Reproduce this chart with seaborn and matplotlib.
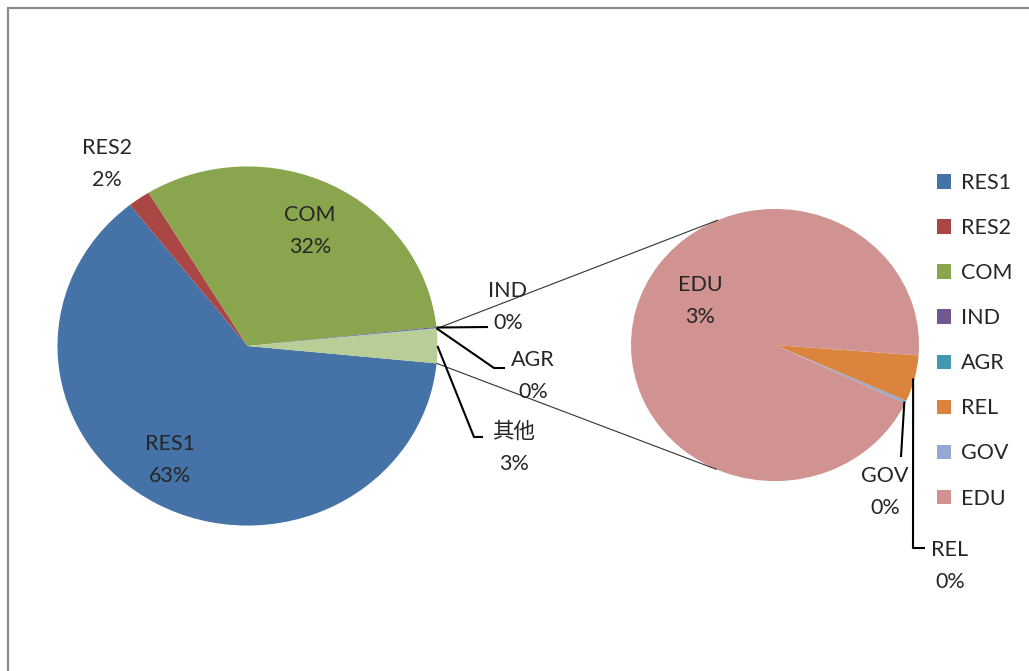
import numpy as np
import matplotlib
matplotlib.use('Agg')
import matplotlib.pyplot as plt
import seaborn as sns
from matplotlib.patches import Patch

# data: land use shares (%), last three go into the secondary pie
categories = ['RES1', 'RES2', 'COM', 'IND', 'AGR', 'REL', 'GOV', 'EDU']
values = [62.8, 1.9, 32.0, 0.10, 0.05, 0.17, 0.01, 2.9]
main_labels = ['RES1', 'RES2', 'COM', 'IND', 'AGR', '其他']
sub_labels = ['REL', 'GOV', 'EDU']
colors = ['#4572A7', '#AA4643', '#89A54E', '#71588F', '#4198AF',
          '#DB843D', '#93A9CF', '#D19392']
other_color = '#B9CD96'

sns.set_theme(style='white')
plt.rcParams['font.family'] = ['Lato', 'Noto Sans CJK SC', 'DejaVu Sans']
FS = 15.5

W, H = 1029, 671
SY = 0.945  # picture is a bit stretched sideways


def P(x, y):
    # pixel coords -> data coords
    return x, (H - y) / SY


fig = plt.figure(figsize=(W / 100, H / 100), dpi=100)
ax = fig.add_axes([0, 0, 1, 1])

total = sum(values)
main_vals = values[:5] + [sum(values[5:])]
sub_vals = values[5:]
other_share = main_vals[-1] / total * 360

c1 = P(247.5, 346)
r1 = 190
c2 = P(775, 345)
r2 = 144

w1, _ = ax.pie(main_vals, colors=colors[:5] + [other_color], startangle=-other_share / 2,
               counterclock=False, center=c1, radius=r1,
               wedgeprops=dict(linewidth=0))
w2, _ = ax.pie(sub_vals, colors=colors[5:], startangle=-4.4,
               counterclock=False, center=c2, radius=r2,
               wedgeprops=dict(linewidth=0))

ax.set_aspect('auto')
ax.set_xlim(0, W)
ax.set_ylim(0, H / SY)
ax.axis('off')


def on_circle(c, r, ang):
    a = np.deg2rad(ang)
    return c[0] + r * np.cos(a), c[1] + r * np.sin(a)


# connector lines between the two pies
ow = w1[-1]
for a1, a2 in [(ow.theta2, 113.5), (ow.theta1, -114)]:
    p1 = on_circle(c1, r1, a1)
    p2 = on_circle(c2, r2, a2)
    ax.plot([p1[0], p2[0]], [p1[1], p2[1]], color='#333333', lw=0.8)

# data labels
pct = [round(v / total * 100) for v in main_vals] + [round(v / total * 100) for v in sub_vals]
label_pos = {
    'RES1': (170, 460), 'RES2': (107, 164), 'COM': (310, 231),
    'IND': (508, 307), 'AGR': (533, 376), '其他': (514, 448),
    'REL': (950, 566), 'GOV': (885, 492), 'EDU': (700, 301),
}
for name, p in zip(main_labels + sub_labels, pct):
    x, y = P(*label_pos[name])
    ax.text(x, y, f'{name}\n{p}%', ha='center', va='center', fontsize=FS,
            color='#262626', linespacing=1.75)


def mid(w):
    return (w.theta1 + w.theta2) / 2


# leader lines
leaders = [
    (on_circle(c1, r1, mid(w1[3])), [P(488, 327)]),
    (on_circle(c1, r1, mid(w1[4])), [P(494, 368), P(505, 368)]),
    (on_circle(c1, r1, mid(w1[5])), [P(474, 437), P(483, 437)]),
    (on_circle(c2, r2 * 0.99, mid(w2[1])), [P(901, 457)]),
    (on_circle(c2, r2 * 0.99, mid(w2[0])), [P(913, 548), P(925, 548)]),
]
for start, pts in leaders:
    xs = [start[0]] + [p[0] for p in pts]
    ys = [start[1]] + [p[1] for p in pts]
    ax.plot(xs, ys, color='black', lw=1.5, solid_capstyle='butt')

# legend
handles = [Patch(facecolor=c, edgecolor='none') for c in colors]
fig.legend(handles, categories, loc='upper left',
           bbox_to_anchor=(937 / W, 1 - 173 / H), frameon=False,
           fontsize=FS, borderpad=0, borderaxespad=0, handlelength=0.65,
           handleheight=0.65, handletextpad=0.45, labelspacing=1.165)

# chart area border (only top and left visible)
fig.add_artist(plt.Line2D([8 / W, 1], [1 - 8 / H, 1 - 8 / H], color='#8c8c8c', lw=1.6,
                          transform=fig.transFigure))
fig.add_artist(plt.Line2D([8 / W, 8 / W], [0, 1 - 8 / H], color='#8c8c8c', lw=1.6,
                          transform=fig.transFigure))

fig.savefig('out.png', dpi=100, facecolor='white')
